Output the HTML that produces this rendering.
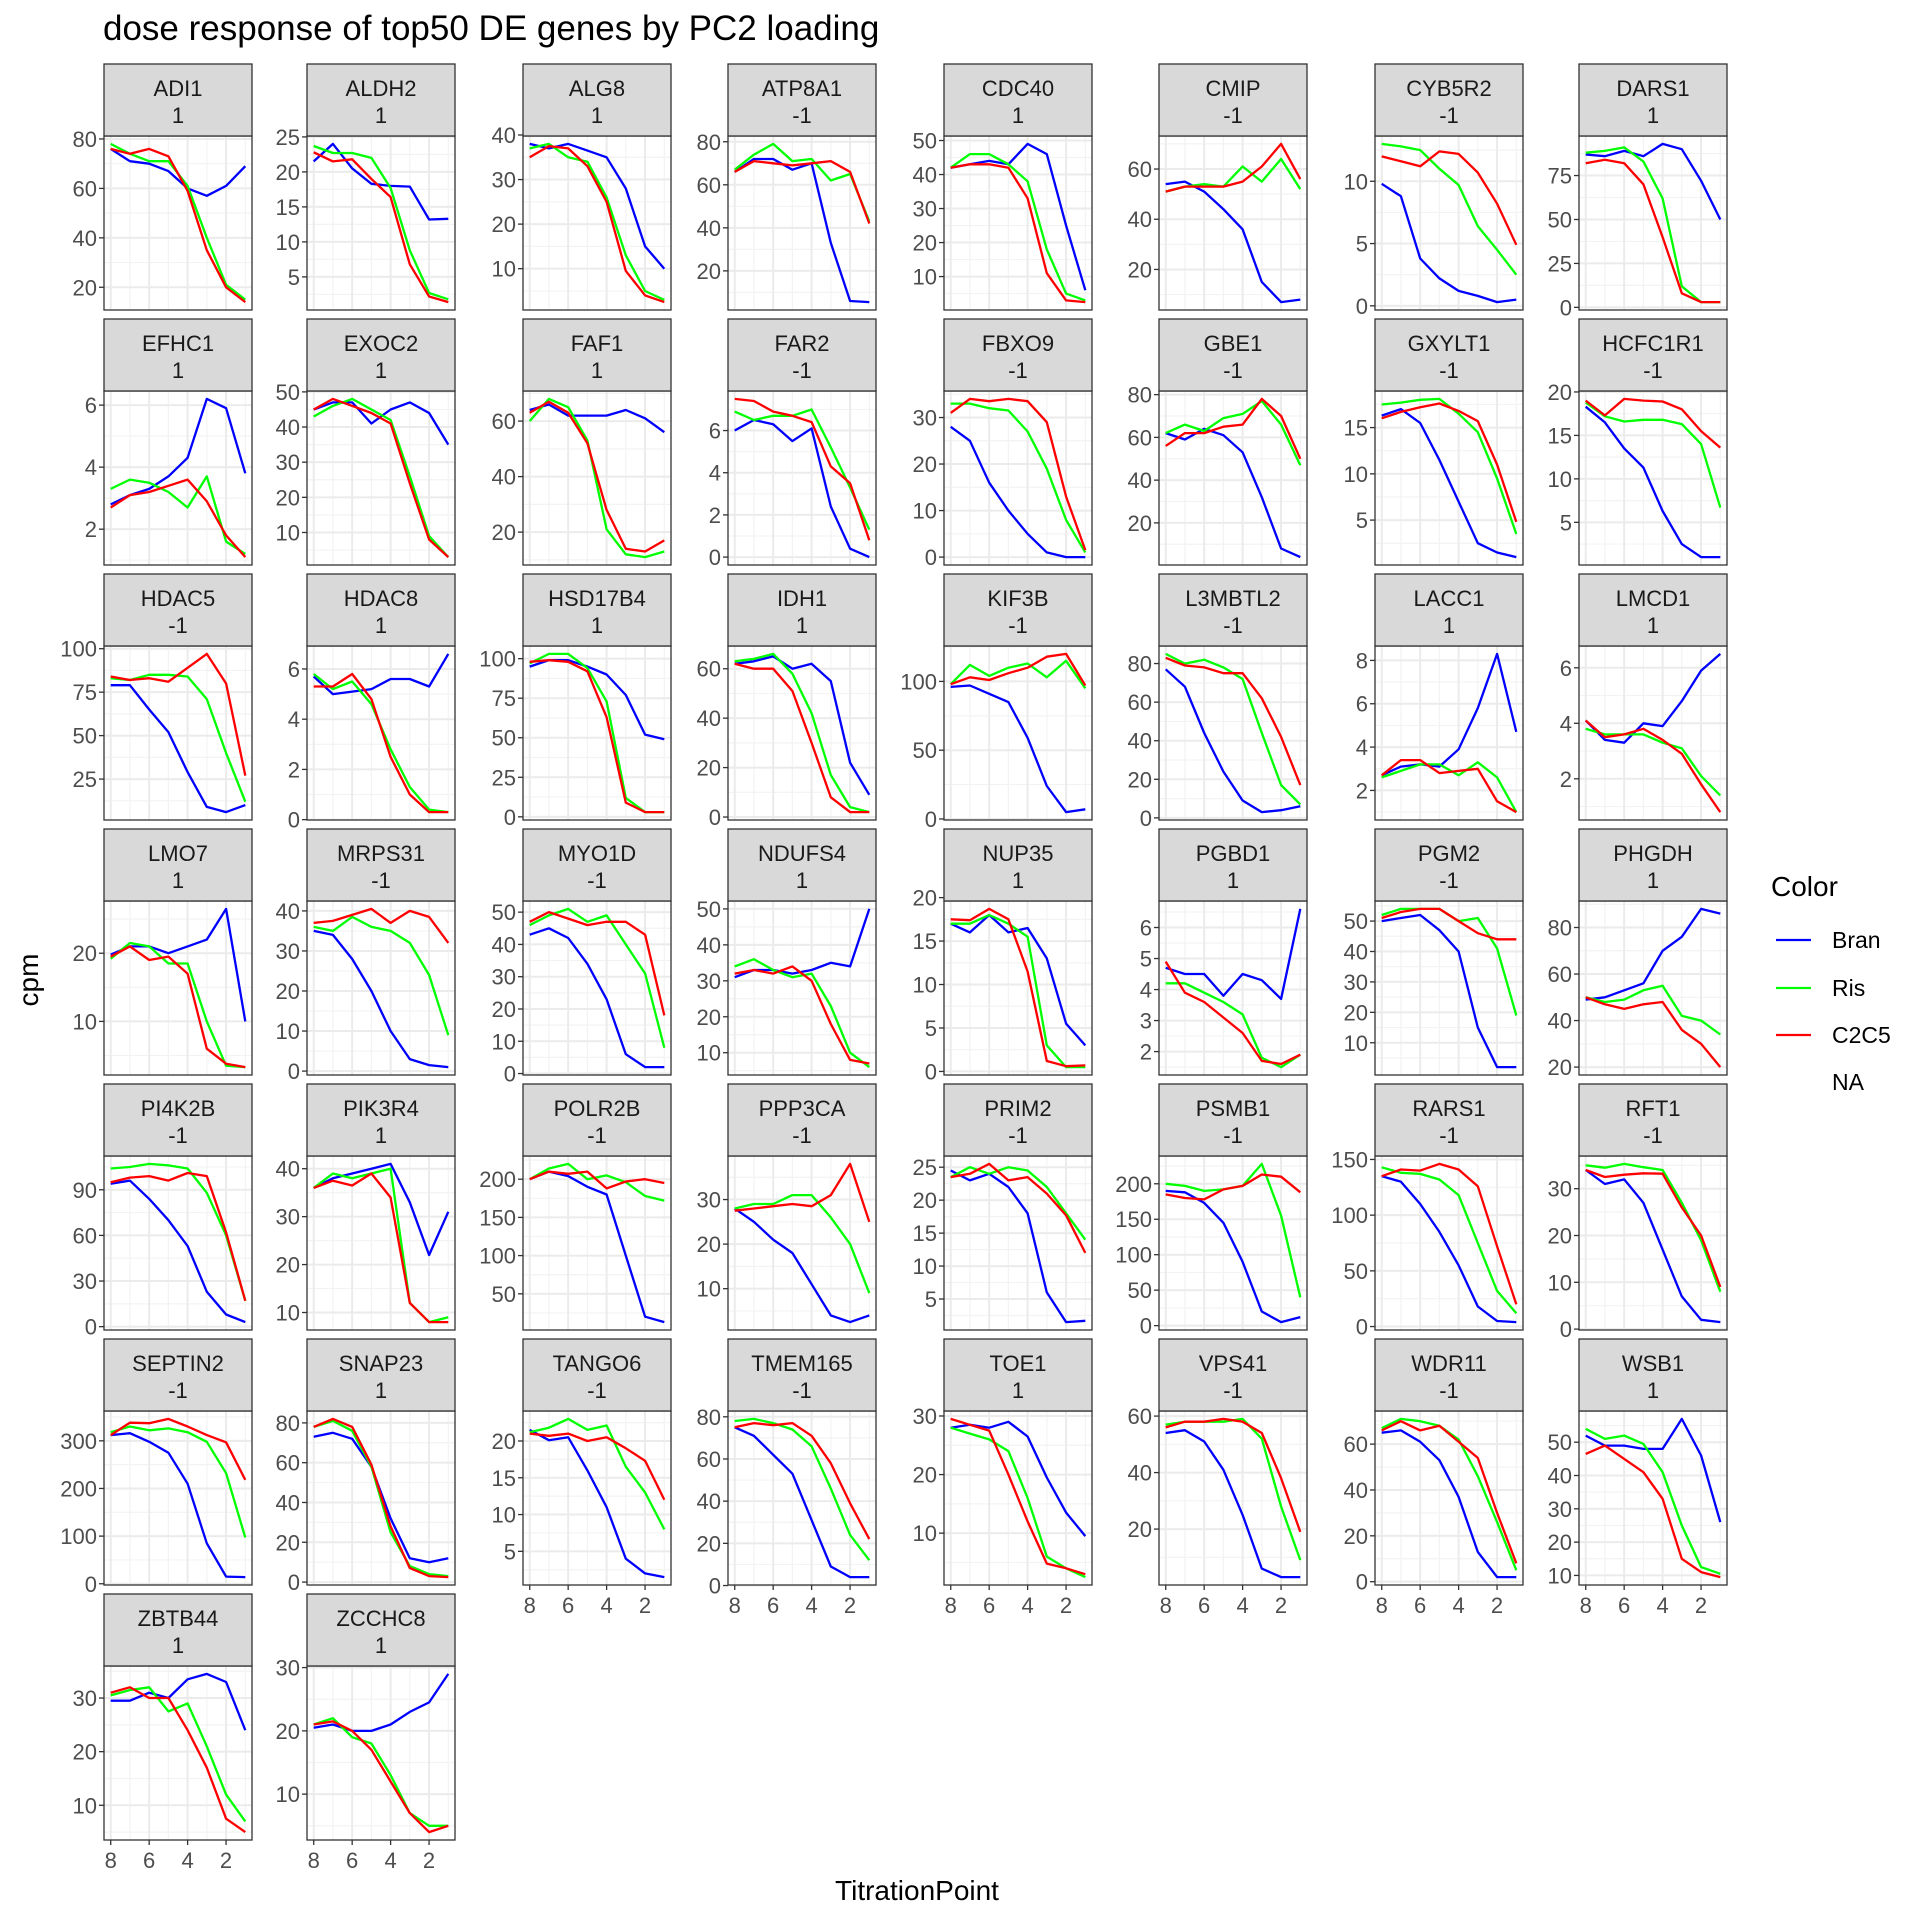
<!DOCTYPE html>
<html><head><meta charset="utf-8">
<style>
html,body{margin:0;padding:0;background:#fff;}
svg{display:block;font-family:"Liberation Sans",Arial,sans-serif;}
</style></head>
<body>
<svg id="chart" width="1920" height="1920" viewBox="0 0 1920 1920" xmlns="http://www.w3.org/2000/svg">
<text x="103" y="40" font-size="35" fill="#000">dose response of top50 DE genes by PC2 loading</text>
<text x="917" y="1900" font-size="28" text-anchor="middle" fill="#000">TitrationPoint</text>
<text transform="translate(38,980) rotate(-90)" font-size="28" text-anchor="middle" fill="#000">cpm</text>
<g>
<text x="1771" y="896" font-size="28" fill="#000">Color</text>
<line x1="1776" x2="1811" y1="940" y2="940" stroke="#0000ff" stroke-width="2.2"/>
<text x="1832" y="948" font-size="23" fill="#000">Bran</text>
<line x1="1776" x2="1811" y1="988" y2="988" stroke="#00ff00" stroke-width="2.2"/>
<text x="1832" y="996" font-size="23" fill="#000">Ris</text>
<line x1="1776" x2="1811" y1="1035" y2="1035" stroke="#ff0000" stroke-width="2.2"/>
<text x="1832" y="1043" font-size="23" fill="#000">C2C5</text>
<text x="1832" y="1090" font-size="23" fill="#000">NA</text>
</g>
<g id="panels"></g>
</svg>
<script>
const xPoints = [8,7,6,5,4,3,2,1];
const xTicks = [8,6,4,2];
const genes = ["ADI1","ALDH2","ALG8","ATP8A1","CDC40","CMIP","CYB5R2","DARS1","EFHC1","EXOC2","FAF1","FAR2","FBXO9","GBE1","GXYLT1","HCFC1R1","HDAC5","HDAC8","HSD17B4","IDH1","KIF3B","L3MBTL2","LACC1","LMCD1","LMO7","MRPS31","MYO1D","NDUFS4","NUP35","PGBD1","PGM2","PHGDH","PI4K2B","PIK3R4","POLR2B","PPP3CA","PRIM2","PSMB1","RARS1","RFT1","SEPTIN2","SNAP23","TANGO6","TMEM165","TOE1","VPS41","WDR11","WSB1","ZBTB44","ZCCHC8"];
const signs = [1,1,1,-1,1,-1,-1,1,1,1,1,-1,-1,-1,-1,-1,-1,1,1,1,-1,-1,1,1,1,-1,-1,1,1,1,-1,1,-1,1,-1,-1,-1,-1,-1,-1,-1,1,-1,-1,1,-1,-1,1,1,1];
const yTicks = [[20,40,60,80],[5,10,15,20,25],[10,20,30,40],[20,40,60,80],[10,20,30,40,50],[20,40,60],[0,5,10],[0,25,50,75],
[2,4,6],[10,20,30,40,50],[20,40,60],[0,2,4,6],[0,10,20,30],[20,40,60,80],[5,10,15],[5,10,15,20],
[25,50,75,100],[0,2,4,6],[0,25,50,75,100],[0,20,40,60],[0,50,100],[0,20,40,60,80],[2,4,6,8],[2,4,6],
[10,20],[0,10,20,30,40],[0,10,20,30,40,50],[10,20,30,40,50],[0,5,10,15,20],[2,3,4,5,6],[10,20,30,40,50],[20,40,60,80],
[0,30,60,90],[10,20,30,40],[50,100,150,200],[10,20,30],[5,10,15,20,25],[0,50,100,150,200],[0,50,100,150],[0,10,20,30],
[0,100,200,300],[0,20,40,60,80],[5,10,15,20],[0,20,40,60,80],[10,20,30],[20,40,60],[0,20,40,60],[10,20,30,40,50],
[10,20,30],[10,20,30]];
const bran = [
[76,71,70,67,60,57,61,69],[21.5,24,20.5,18.3,18,17.9,13.2,13.3],[38,37,38,36.5,35,28,15,10],[66,72,72,67,70,33,6,5.5],
[42,43,44,43,49,46,25,6],[54,55,51,44,36,15,7,8],[9.8,8.8,3.8,2.2,1.2,0.8,0.3,0.5],[87,86,89,86,93,90,72,50],
[2.8,3.1,3.3,3.7,4.3,6.2,5.9,3.8],[45,47,47,41,45,47,44,35],[64,66,62,62,62,64,61,56],[6.0,6.5,6.3,5.5,6.1,2.4,0.4,0],
[28,25,16,10,5,1,0,0],[62,59,64,61,53,32,8,4],[16.3,17,15.5,11.5,7,2.5,1.5,1],[18.3,16.5,13.5,11.3,6.3,2.5,1,1],
[79,79,65,52,29,9,6,10],[5.7,5.0,5.1,5.2,5.6,5.6,5.3,6.6],[95,99,99,95,90,77,52,49],[62,63,65,60,62,55,22,9],
[96,97,91,85,59,24,5,7],[77,68,44,24,9,3,4,6],[2.7,3.1,3.2,3.1,3.9,5.8,8.3,4.7],[4.1,3.4,3.3,4.0,3.9,4.8,5.9,6.5],
[19.8,21,21,20,21,22,26.5,10],[35,34,28,20,10,3,1.5,1],[43,45,42,34,23,6,2,2],[31,33,33,32,33,35,34,50],
[17,16,18,16,16.5,13,5.5,3],[4.7,4.5,4.5,3.8,4.5,4.3,3.7,6.6],[50,51,52,47,40,15,2,2],[49,50,53,56,70,76,88,86],
[94,96,84,70,53,23,8,3],[36,38,39,40,41,33,22,31],[200,210,204,190,180,100,20,13],[28,25,21,18,11,4,2.5,4],
[24.5,23,24,22,18,6,1.5,1.7],[190,188,173,145,90,20,5,12],[135,130,110,85,55,18,5,4],[34,31,32,27,17,7,2,1.5],
[312,316,298,275,210,85,15,14],[73,75,72,58,32,12,10,12],[21.5,20.1,20.5,16,11,4,2,1.5],[75,71,62,53,31,9,4,4],
[28,28.5,28,29,26.5,19.5,13.5,9.5],[54,55,51,41,25,6,3,3],[65,66,61,53,37,13,2,2],[52,49,49,48,48,57,46,26],
[29.5,29.5,31,30,33.5,34.5,33,24],[20.5,21,20,20,21,23,24.5,29]];
const ris = [
[78,74,71,71,61,40,21,15],[23.7,22.7,22.7,22,17.7,8.8,2.7,1.8],[37,38,35,34,26,13,5,3],[67,74,79,71,72,62,65,43],
[42,46,46,43,38,18,5,3],[51,53,54,53,61,55,64,52],[13,12.8,12.5,11,9.7,6.4,4.5,2.5],[88,89,91,83,62,12,3,3],
[3.3,3.6,3.5,3.2,2.7,3.7,1.6,1.2],[43,46,48,45,42,26,9,3],[60,68,65,53,21,12,11,13],[6.9,6.5,6.7,6.7,7.0,5.2,3.3,1.3],
[33,33,32,31.5,27,19,8,1],[62,66,63,69,71,77,66,47],[17.5,17.7,18,18.1,16.5,14.5,9.5,3.5],[18.8,17.2,16.6,16.8,16.8,16.3,14,6.7],
[83,82,85,85,84,71,40,12],[5.8,5.2,5.5,4.6,2.8,1.3,0.4,0.3],[97,103,103,94,73,12,3,3],[63,64,66,58,42,17,4,2],
[98,112,104,110,113,103,115,95],[85,80,82,78,72,44,17,7],[2.6,2.9,3.2,3.2,2.7,3.3,2.6,1.0],[3.8,3.6,3.6,3.6,3.3,3.1,2.1,1.4],
[19.2,21.5,21,18.5,18.5,10,3.5,3.3],[36,35,38.5,36,35,32,24,9],[46,49,51,47,49,40,31,8],[34,36,33,31,32,23,10,6],
[17,17,18,17,15.5,3,0.5,0.5],[4.2,4.2,3.9,3.6,3.2,1.8,1.5,1.9],[52,54,54,54,50,51,41,19],[50,48,49,53,55,42,40,34],
[104,105,107,106,104,88,60,17],[36,39,38,39,40,12,8,9],[200,214,220,200,205,196,178,172],[28,29,29,31,31,26,20,9],
[23.5,25,24,25,24.5,22,18,14],[200,197,190,192,197,228,155,40],[143,138,137,132,118,75,32,12],[35,34.5,35.3,34.6,34,27,19,8],
[318,330,322,326,318,298,232,97],[78,81,76,58,25,8,4,3],[21.2,21.8,23,21.5,22.1,16.5,13,8],[78,79,77,74,66,46,24,12],
[28,27,26,24,16,6,4,2.5],[57,58,58,58,59,52,28,9],[67,71,70,68,62,46,26,5],[54,51,52,49.5,41,25,12.5,10.5],
[30.5,31.5,32,27.5,29,21,12,7],[21,22,19,18,13,7,5,5]];
const c2c5 = [
[76,74,76,73,59,35,20,14],[22.8,21.5,21.8,19,16.4,6.8,2.2,1.4],[35,37.5,37,33,25,9.5,4,2.5],[66,71,70,69,70,71,66,42],
[42,43,43,42,33,11,3,2.5],[51,53,53,53,55,61,70,56],[12,11.6,11.2,12.4,12.2,10.7,8.2,4.9],[82,84,82,70,40,8,3,3],
[2.7,3.1,3.2,3.4,3.6,2.9,1.8,1.1],[45,48,46,44,41,24,8,3],[63,67,63,52,28,14,13,17],[7.5,7.4,6.9,6.7,6.4,4.3,3.5,0.8],
[31,34,33.5,34,33.5,29,13,1.5],[56,62,62,65,66,78,70,50],[16,16.7,17.2,17.6,16.8,15.7,11,4.8],[19,17.3,19.2,19,18.9,18,15.5,13.6],
[84,82,83,81,89,97,80,27],[5.3,5.3,5.8,4.8,2.5,1.0,0.3,0.3],[98,99,98,92,63,9,3,3],[62,60,60,51,30,8,2,2],
[98,103,101,106,110,118,120,97],[83,79,78,75,75,62,42,17],[2.7,3.4,3.4,2.8,2.9,3.0,1.5,1.0],[4.1,3.5,3.6,3.8,3.4,2.9,1.8,0.8],
[19.5,21,19,19.5,17,6,3.8,3.3],[37,37.5,39,40.5,37,40,38.5,32],[47,50,48,46,47,47,43,18],[32,33,32,34,30,18,8,7],
[17.5,17.4,18.7,17.5,11.5,1.2,0.6,0.7],[4.9,3.9,3.6,3.1,2.6,1.7,1.6,1.9],[51,53,54,54,50,46,44,44],[50,47,45,47,48,36,30,20],
[95,98,99,96,101,99,62,17],[36,37.5,36.5,39,34,12,8,8],[200,210,207,210,188,197,200,195],[27.5,28,28.5,29,28.5,31,38,25],
[23.5,24,25.5,23,23.5,21,17.7,12],[185,180,178,192,197,213,210,188],[135,141,140,146,141,126,72,20],[34,32.5,33,33.3,33.2,26,20,9],
[312,338,337,346,330,312,297,218],[78,82,78,59,28,7,3,2.5],[21,20.7,21,20,20.5,19,17.3,12],[75,77,76,77,71,58,39,22],
[29.5,28.5,27.5,20,12,4.8,4,3],[56,58,58,59,58,54,38,19],[66,70,66,68,61,54,30,8],[46.5,49,45,41,33,15,11,9.5],
[31,32,30,30,24,17,7.5,5],[21,21.5,20,17,12,7,4,5]];

const NS = "http://www.w3.org/2000/svg";
const colLeft = [104,307,523,728,944,1159,1375,1579];
const PW = 148, PH = 174, STRIP = 72, PITCH = 255, TOP0 = 64;
const root = document.getElementById('panels');
function mk(tag, attrs, parent){ const e=document.createElementNS(NS,tag); for(const k in attrs) e.setAttribute(k,attrs[k]); parent.appendChild(e); return e; }

genes.forEach((g,i)=>{
  const r = Math.floor(i/8), c = i%8;
  const L = colLeft[c], ST = TOP0 + r*PITCH, T = ST + STRIP, B = T + PH, R = L + PW;
  const grp = mk('g',{},root);
  
  
  const xs = v => L + (8.35 - v) / 7.7 * PW;
  const all = bran[i].concat(ris[i], c2c5[i]);
  let mn = Math.min(...all), mx = Math.max(...all), pad = (mx-mn)*0.05;
  const y0 = mn - pad, y1 = mx + pad;
  const ys = v => B - (v - y0) / (y1 - y0) * PH;
  mk('rect',{x:L,y:T,width:PW,height:PH,fill:'#fff'},grp);
  const tk = yTicks[i], step = tk.length>1 ? tk[1]-tk[0] : 10;
  const minors = [tk[0]-step/2]; tk.forEach(t=>minors.push(t+step/2));
  minors.forEach(m=>{ if(m>y0 && m<y1) mk('line',{x1:L,x2:R,y1:ys(m),y2:ys(m),stroke:'#f3f3f3','stroke-width':1.2},grp); });
  [7,5,3,1].forEach(m=>mk('line',{x1:xs(m),x2:xs(m),y1:T,y2:B,stroke:'#f3f3f3','stroke-width':1.2},grp));
  tk.forEach(t=>mk('line',{x1:L,x2:R,y1:ys(t),y2:ys(t),stroke:'#ebebeb','stroke-width':2},grp));
  xTicks.forEach(t=>mk('line',{x1:xs(t),x2:xs(t),y1:T,y2:B,stroke:'#ebebeb','stroke-width':2},grp));
  [[bran[i],'#0000ff','bran'],[ris[i],'#00ff00','ris'],[c2c5[i],'#ff0000','c2c5']].forEach(([vals,col,nm])=>{
    const pts = vals.map((v,j)=>xs(xPoints[j]).toFixed(1)+','+ys(v).toFixed(1)).join(' ');
    const pl = mk('polyline',{points:pts,fill:'none',stroke:col,'stroke-width':2.3,'stroke-linejoin':'round'},grp);
    
    
  });
  mk('rect',{x:L,y:T,width:PW,height:PH,fill:'none',stroke:'#333','stroke-width':1.3},grp);
  const sr = mk('rect',{x:L,y:ST,width:PW,height:STRIP,fill:'#d9d9d9',stroke:'#333','stroke-width':1.3},grp);
  
  
  const t1 = mk('text',{x:L+PW/2,y:ST+32,'font-size':22,'text-anchor':'middle',fill:'#1a1a1a'},grp); t1.textContent = g;
  
  
  const t2 = mk('text',{x:L+PW/2,y:ST+59,'font-size':22,'text-anchor':'middle',fill:'#1a1a1a'},grp); t2.textContent = String(signs[i]);
  
  
  tk.forEach(t=>{
    const y = ys(t);
    mk('line',{x1:L-5,x2:L,y1:y,y2:y,stroke:'#333','stroke-width':1.3},grp);
    const lb = mk('text',{x:L-7,y:y+8,'font-size':22,'text-anchor':'end',fill:'#4d4d4d'},grp); lb.textContent = t;
    
    
  });
  const isBottom = (r===6) || (r===5 && c>=2);
  if(isBottom){
    xTicks.forEach(t=>{
      const x = xs(t);
      mk('line',{x1:x,x2:x,y1:B,y2:B+5,stroke:'#333','stroke-width':1.3},grp);
      const lb = mk('text',{x:x,y:B+28,'font-size':22,'text-anchor':'middle',fill:'#4d4d4d'},grp); lb.textContent = t;
      
      
    });
  }
});
</script>
</body></html>
